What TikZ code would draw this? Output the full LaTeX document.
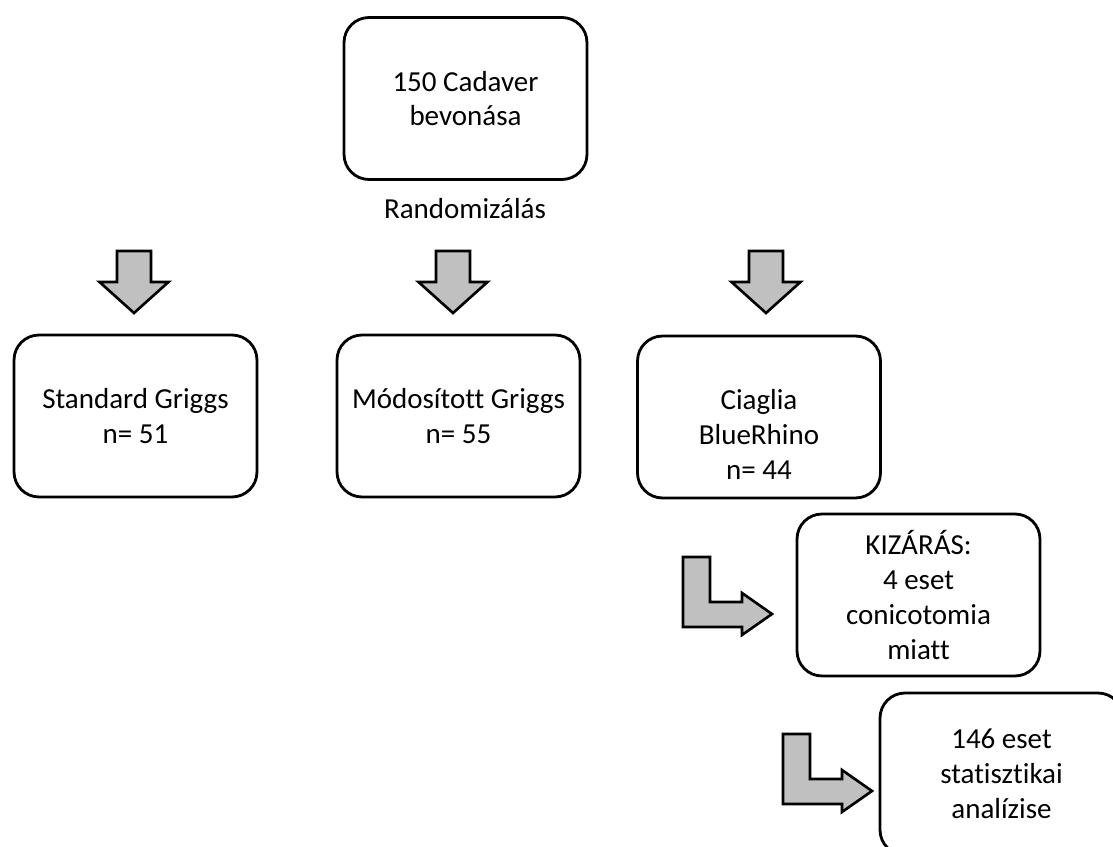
\documentclass[tikz,border=0pt]{standalone}
\usepackage{fontspec}
\setmainfont{Carlito}[Ligatures=NoCommon]
\definecolor{arrowgray}{RGB}{192,192,192}
\begin{document}
\begin{tikzpicture}[
  x=0.02cm, y=-0.02cm,
  box/.style={draw=black, line width=1.6pt, rounded corners=0.5cm, minimum width=4.86cm, minimum height=3.24cm, align=center, inner sep=0pt, font=\fontsize{16.5pt}{19.8pt}\selectfont},
  lbl/.style={align=center, inner sep=0pt, font=\fontsize{16.5pt}{19.8pt}\selectfont},
  blockarrow/.style={draw=black, fill=arrowgray, line width=1.5pt, line join=miter}
]
\useasboundingbox (0,0) rectangle (1113,847);
\clip (0,0) rectangle (1113,847);

% === Top: inclusion and randomisation ===
\node[box] (start) at (465.5,98.5) {150 Cadaver\\bevonása};
\node[lbl] (rand) at (465,209) {Randomizálás};

% Down arrows to the three groups
\foreach \cx in {134,453,766}
  \draw[blockarrow] (\cx-17,251) -- (\cx+17,251) -- (\cx+17,282) -- (\cx+34.5,282)
    -- (\cx,313) -- (\cx-34.5,282) -- (\cx-17,282) -- cycle;

% === Groups ===
\node[box] (std) at (135.5,416) {Standard Griggs\\n= 51};
\node[box] (mod) at (458.5,416) {Módosított Griggs\\n= 55};
\node[box] (cia) at (759,417) {};
\node[lbl] (ciatext) at ([yshift=-10pt]cia.center) {Ciaglia\\BlueRhino\\n= 44};

% === Exclusion and final analysis ===
\node[box] (excl) at (918.5,595) {KIZÁRÁS:\\4 eset\\conicotomia\\miatt};
\node[box] (final) at (1001.5,774) {146 eset\\statisztikai\\analízise};

% Bent arrows
\foreach \dx/\dy in {0/0,100/177}
  \draw[blockarrow, shift={(\dx,\dy)}] (683,557) -- (710,557) -- (710,602) -- (742,602)
    -- (742,593) -- (772,614) -- (742,635) -- (742,627) -- (683,627) -- cycle;

\end{tikzpicture}
\end{document}
